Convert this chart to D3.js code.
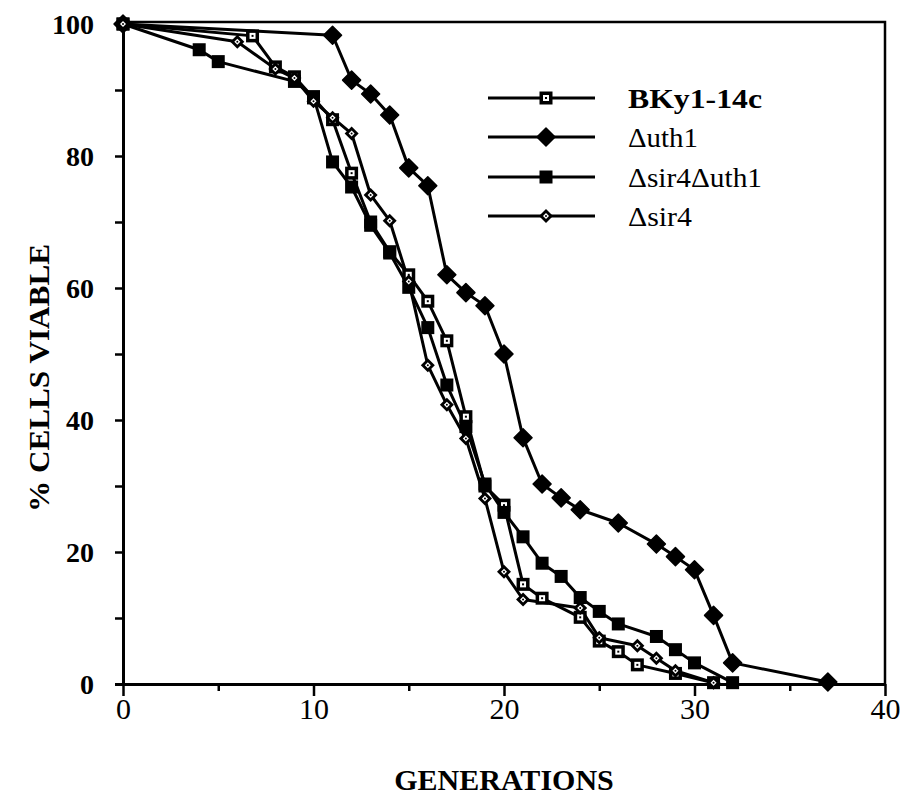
<!DOCTYPE html>
<html>
<head>
<meta charset="utf-8">
<script src="https://cdn.jsdelivr.net/npm/d3@7"></script>
<style>
  html, body { margin: 0; padding: 0; background: #fff; }
  svg { display: block; }
</style>
</head>
<body>
<svg id="chart" width="904" height="797"></svg>
<script>
// ---- data ----
const seriesNames = ["BKy1-14c", "\u0394uth1", "\u0394sir4\u0394uth1", "\u0394sir4"];

const gensBKy = [0, 6.8, 8, 9, 10, 11, 12, 13, 14, 15, 16, 17, 18, 19, 20, 21, 22, 24, 25, 26, 27, 29, 31];
const pctBKy  = [100, 98.2, 93.5, 92, 88.8, 85.5, 77.4, 70, 65.5, 62, 58, 52, 40.5, 30, 27.1, 15.1, 13, 10.1, 6.5, 4.9, 2.9, 1.6, 0.2];

const gensUth1 = [0, 11, 12, 13, 14, 15, 16, 17, 18, 19, 20, 21, 22, 23, 24, 26, 28, 29, 30, 31, 32, 37];
const pctUth1  = [100, 98.3, 91.5, 89.4, 86.2, 78.2, 75.5, 62, 59.3, 57.3, 50, 37.3, 30.3, 28.2, 26.4, 24.4, 21.2, 19.3, 17.3, 10.4, 3.2, 0.3];

const gensSirUth = [0, 4, 5, 9, 10, 11, 12, 13, 14, 15, 16, 17, 18, 19, 20, 21, 22, 23, 24, 25, 26, 28, 29, 30, 32];
const pctSirUth  = [100, 96.1, 94.3, 91.3, 89, 79.1, 75.3, 69.5, 65.3, 60.1, 54, 45.3, 39, 30.3, 26, 22.3, 18.3, 16.3, 13.1, 11, 9.1, 7.2, 5.2, 3.2, 0.2];

const gensSir4 = [0, 6, 8, 9, 10, 11, 12, 13, 14, 15, 16, 17, 18, 19, 20, 21, 24, 25, 27, 28, 29, 31];
const pctSir4  = [100, 97.3, 93.2, 91.8, 88.3, 85.8, 83.4, 74.1, 70.2, 61, 48.3, 42.3, 37.2, 28.1, 17, 12.8, 11.5, 7, 5.8, 3.9, 2, 0.2];

const xTickValues = [0, 5, 10, 15, 20, 25, 30, 35, 40];
const xTickLabels = ["0", "", "10", "", "20", "", "30", "", "40"];
const yTickValues = [0, 10, 20, 30, 40, 50, 60, 70, 80, 90, 100];
const yTickLabels = ["0", "", "20", "", "40", "", "60", "", "80", "", "100"];
const xTitle = "GENERATIONS";
const yTitle = "% CELLS VIABLE";

// ---- layout ----
const svg = d3.select("#chart");
const pLeft = 123, pRight = 885, pTop = 24, pBottom = 684;
const x = d3.scaleLinear().domain([0, 40]).range([pLeft, pRight]);
const y = d3.scaleLinear().domain([0, 100]).range([pBottom, pTop]);
const serif = "'Liberation Serif', 'Times New Roman', serif";

// frame (top & right)
svg.append("path")
  .attr("d", `M${pLeft},${pTop - 2}H${pRight}V${pBottom}`)
  .attr("fill", "none").attr("stroke", "#000").attr("stroke-width", 2.5);

// x axis
const xAxis = d3.axisBottom(x).tickValues(xTickValues)
  .tickFormat((d, i) => xTickLabels[i]).tickSizeOuter(0);
const gxAxis = svg.append("g").attr("transform", `translate(0,${pBottom})`).call(xAxis);
gxAxis.select(".domain").attr("stroke-width", 3);
gxAxis.selectAll(".tick line").attr("stroke-width", 2.5)
  .attr("y2", (d, i) => xTickLabels[i] ? 12 : 7);
gxAxis.selectAll(".tick text")
  .attr("font-family", serif).attr("font-size", 30).attr("fill", "#000")
  .attr("y", 14).attr("dy", "0.71em");

// y axis
const yAxis = d3.axisLeft(y).tickValues(yTickValues)
  .tickFormat((d, i) => yTickLabels[i]).tickSizeOuter(0).tickSize(8);
const gyAxis = svg.append("g").attr("transform", `translate(${pLeft},0)`).call(yAxis);
gyAxis.select(".domain").attr("stroke-width", 3);
gyAxis.selectAll(".tick line").attr("stroke-width", 2.5);
gyAxis.selectAll(".tick text")
  .attr("font-family", serif).attr("font-size", 28).attr("font-weight", "bold")
  .attr("fill", "#000").attr("x", -29).attr("dy", "0.34em");

// titles
svg.append("text").attr("x", (pLeft + pRight) / 2).attr("y", 790)
  .attr("text-anchor", "middle").attr("font-family", serif)
  .attr("font-size", 30).attr("font-weight", "bold").text(xTitle);
svg.append("text").attr("transform", "translate(49,378) rotate(-90)")
  .attr("text-anchor", "middle").attr("font-family", serif)
  .attr("font-size", 29).attr("font-weight", "bold")
  .attr("textLength", 268).attr("lengthAdjust", "spacingAndGlyphs")
  .text(yTitle);

// marker drawers
function drawMarker(g, type, cx, cy) {
  if (type === "sqOpen") {
    g.append("rect").attr("x", cx - 6.5).attr("y", cy - 6.5).attr("width", 13).attr("height", 13).attr("fill", "#000");
    g.append("rect").attr("x", cx - 3).attr("y", cy - 3).attr("width", 6).attr("height", 6).attr("fill", "#fff");
    g.append("rect").attr("x", cx - 1).attr("y", cy - 1).attr("width", 2).attr("height", 2).attr("fill", "#000");
  } else if (type === "sqFilled") {
    g.append("rect").attr("x", cx - 6.5).attr("y", cy - 6.5).attr("width", 13).attr("height", 13).attr("fill", "#000");
  } else if (type === "diaFilled") {
    const r = 9;
    g.append("path").attr("d", `M${cx},${cy - r}L${cx + r},${cy}L${cx},${cy + r}L${cx - r},${cy}Z`)
      .attr("fill", "#000").attr("stroke", "#000").attr("stroke-width", 1.5).attr("stroke-linejoin", "round");
  } else if (type === "diaOpen") {
    const r = 7, r2 = 3;
    g.append("path").attr("d", `M${cx},${cy - r}L${cx + r},${cy}L${cx},${cy + r}L${cx - r},${cy}Z`).attr("fill", "#000");
    g.append("path").attr("d", `M${cx},${cy - r2}L${cx + r2},${cy}L${cx},${cy + r2}L${cx - r2},${cy}Z`).attr("fill", "#fff");
    g.append("circle").attr("cx", cx).attr("cy", cy).attr("r", 1).attr("fill", "#000");
  }
}

const series = [
  { name: seriesNames[0], gx: gensBKy, py: pctBKy, marker: "sqOpen" },
  { name: seriesNames[1], gx: gensUth1, py: pctUth1, marker: "diaFilled" },
  { name: seriesNames[2], gx: gensSirUth, py: pctSirUth, marker: "sqFilled" },
  { name: seriesNames[3], gx: gensSir4, py: pctSir4, marker: "diaOpen" }
];

const line = d3.line().x(d => x(d[0])).y(d => y(d[1]));
const plot = svg.append("g");
series.forEach(s => {
  const pts = s.gx.map((g, i) => [g, s.py[i]]);
  plot.append("path").datum(pts).attr("d", line)
    .attr("fill", "none").attr("stroke", "#000").attr("stroke-width", 3)
    .attr("stroke-linejoin", "round");
});
series.forEach(s => {
  const g = plot.append("g");
  s.gx.forEach((gv, i) => drawMarker(g, s.marker, x(gv), y(s.py[i])));
});

// legend
const legend = svg.append("g");
const legY = [98, 137, 177, 216];
const legWeights = ["bold", "normal", "normal", "normal"];
const legLen = [134, 70, 134, 64];
series.forEach((s, i) => {
  legend.append("line").attr("x1", 488).attr("x2", 595).attr("y1", legY[i]).attr("y2", legY[i])
    .attr("stroke", "#000").attr("stroke-width", 3);
  drawMarker(legend, s.marker, 546, legY[i]);
  legend.append("text").attr("x", 628).attr("y", legY[i]).attr("dy", "0.35em")
    .attr("font-family", serif).attr("font-size", 28).attr("font-weight", legWeights[i])
    .attr("textLength", legLen[i]).attr("lengthAdjust", "spacingAndGlyphs")
    .text(s.name);
});
</script>
</body>
</html>
